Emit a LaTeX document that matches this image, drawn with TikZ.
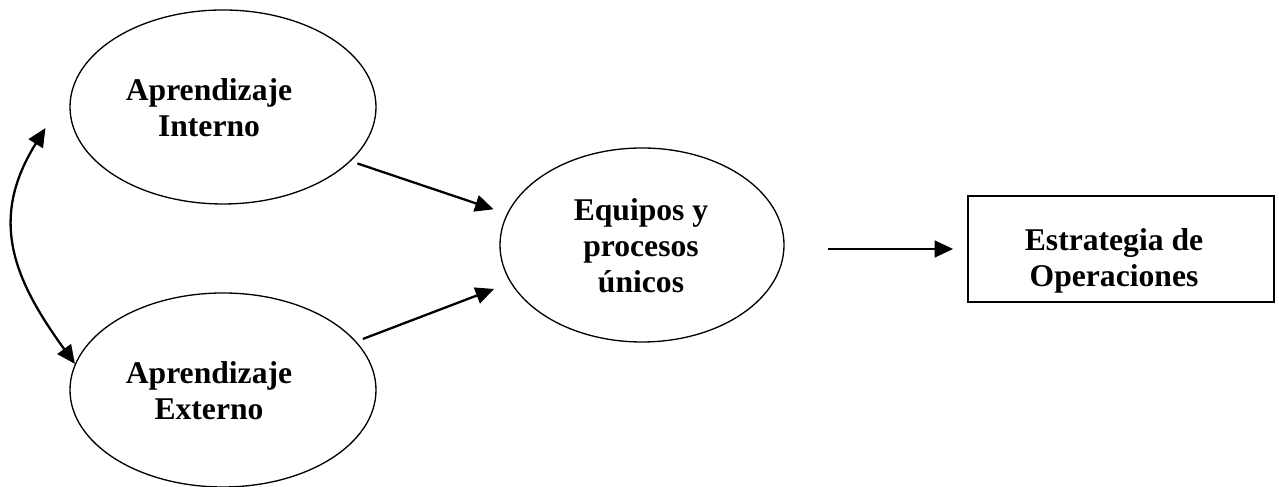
\documentclass[tikz,border=0pt]{standalone}
\usepackage{fontspec}
\setmainfont{Liberation Serif}
\usepackage{tikz}
\usetikzlibrary{shapes.geometric, arrows.meta}

\begin{document}
\begin{tikzpicture}[
		every node/.style={inner sep=0pt},
		blob/.style={ellipse, draw, line width=0.75pt, minimum width=6.12cm, minimum height=3.88cm},
		txt/.style={draw=none, align=center, font=\bfseries\fontsize{18}{20.5}\selectfont},
		link/.style={-{Triangle[length=10.5pt, width=9.5pt]}, line width=1.3pt}
	]
  \useasboundingbox (0cm, 0cm) rectangle (25.58cm, 9.74cm);
  \node (interno) [blob] at (4.46cm, 7.6cm) {};
  \node (interno_label) [txt] at (4.18cm, 7.58cm) {Aprendizaje\\Interno};
  \node (externo) [blob] at (4.46cm, 1.94cm) {};
  \node (externo_label) [txt] at (4.18cm, 1.92cm) {Aprendizaje\\Externo};
  \node (equipos) [blob, minimum width=5.68cm] at (12.84cm, 4.84cm) {};
  \node (equipos_label) [txt] at (12.82cm, 4.82cm) {Equipos y\\procesos\\únicos};
  \node (estrategia) [draw, line width=1pt, minimum width=6.12cm, minimum height=2.12cm] at (22.42cm, 4.76cm) {};
  \node (estrategia_label) [txt] at (22.28cm, 4.52cm) {Estrategia de\\Operaciones};
  \draw (interno.-23) edge [link, shorten <=0.14cm, shorten >=0.28cm] (equipos.167.5);
  \draw (externo.20.6) edge [link, shorten <=0.14cm, shorten >=0.35cm] (equipos.196.7);
  \draw (equipos.east |- estrategia.west) edge [link, shorten <=0.86cm, shorten >=0.28cm] (estrategia.west);
  \draw ([xshift=-0.55cm]interno.188) edge [link, {Triangle[length=10.5pt, width=9.5pt]}-{Triangle[length=10.5pt, width=9.5pt]}, out=238, in=126, looseness=1.15] (externo.170);
\end{tikzpicture}
\end{document}
